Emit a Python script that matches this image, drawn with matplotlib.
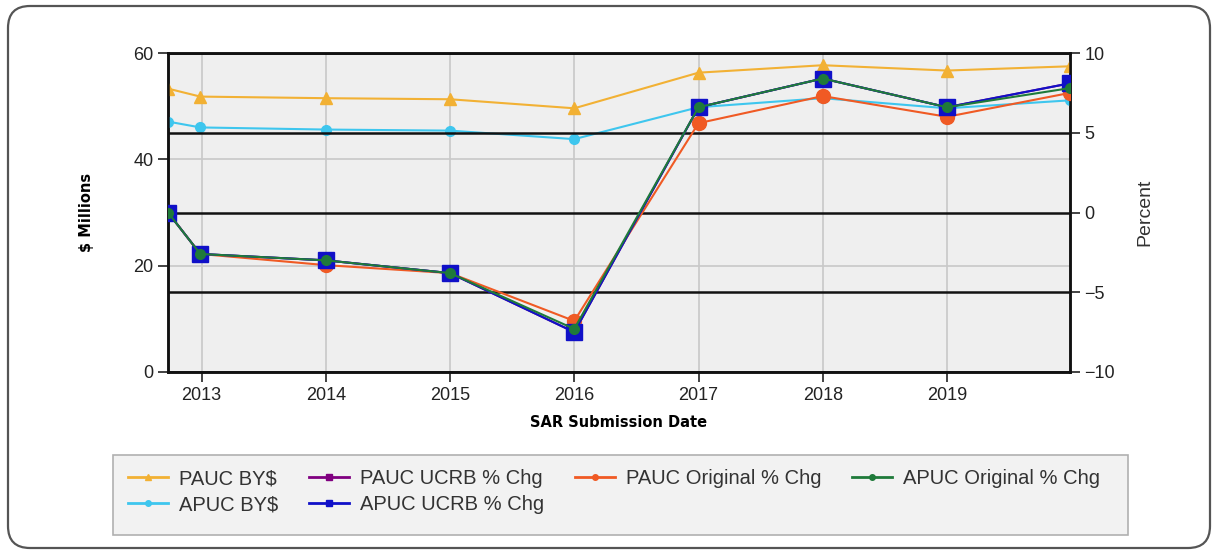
import matplotlib
matplotlib.use("Agg")
import matplotlib.pyplot as plt
from matplotlib.lines import Line2D
from matplotlib.patches import FancyBboxPatch, Rectangle

# SAR submission dates (decimal years)
dates = [2012.73, 2012.99, 2014.0, 2015.0, 2016.0, 2017.0, 2018.0, 2019.0, 2019.99]
year_ticks = [2013, 2014, 2015, 2016, 2017, 2018, 2019]

# $ Millions
pauc_bys = [53.3, 51.8, 51.5, 51.3, 49.6, 56.3, 57.7, 56.7, 57.5]
apuc_bys = [47.1, 46.0, 45.6, 45.4, 43.8, 49.8, 51.5, 49.6, 51.1]

# Percent change
pauc_ucrb = [0.0, -2.6, -3.0, -3.8, -7.5, 6.6, 8.4, 6.6, 8.1]
pauc_orig = [0.0, -2.6, -3.3, -3.8, -6.8, 5.6, 7.3, 6.0, 7.5]
apuc_orig = [0.0, -2.6, -3.0, -3.8, -7.3, 6.6, 8.4, 6.6, 7.8]
apuc_ucrb = [0.0, -2.6, -3.0, -3.8, -7.5, 6.6, 8.4, 6.6, 8.1]

c_pauc_bys = "#f2b134"
c_apuc_bys = "#3ec6ee"
c_pauc_ucrb = "#800080"
c_pauc_orig = "#f05a24"
c_apuc_orig = "#1f7a3a"
c_apuc_ucrb = "#1010c8"

plt.rcParams["font.family"] = ["Liberation Sans", "DejaVu Sans"]

fig = plt.figure(figsize=(12.19, 5.54), dpi=100)
ax = fig.add_axes([168 / 1219, 1 - 372 / 554, 902 / 1219, 319 / 554])
ax.set_facecolor("#efefef")

ax.plot(dates, pauc_bys, color=c_pauc_bys, lw=1.5, marker="^", ms=8, zorder=3)
ax.plot(dates, apuc_bys, color=c_apuc_bys, lw=1.5, marker="o", ms=7, zorder=3)

ax.set_xlim(dates[0], dates[-1])
ax.set_ylim(0, 60)
ax.set_yticks([0, 20, 40, 60])
ax.set_xticks(year_ticks)
ax.grid(True, color="#c8c8c8", lw=1.2, zorder=0)
ax.set_axisbelow(True)
ax.tick_params(axis="both", labelsize=13, color="#222222", length=7, width=1.2,
               labelcolor="#222222")
for s in ax.spines.values():
    s.set_color("#111111")
    s.set_linewidth(1.8)
ax.set_ylabel("$ Millions", fontsize=10.5, fontweight="bold", family="DejaVu Sans",
              labelpad=28)
ax.set_xlabel("SAR Submission Date", fontsize=10.5, fontweight="bold",
              family="DejaVu Sans", labelpad=8)

ax2 = ax.twinx()
ax2.set_ylim(-10, 10)
ax2.set_yticks([-10, -5, 0, 5, 10])
ax2.grid(True, axis="y", color="#111111", lw=1.8, zorder=1)
ax2.plot(dates, pauc_ucrb, color=c_pauc_ucrb, lw=1.5, marker="s", ms=10, zorder=3)
ax2.plot(dates, pauc_orig, color=c_pauc_orig, lw=1.5, marker="o", ms=10, zorder=3)
ax2.plot(dates, apuc_ucrb, color=c_apuc_ucrb, lw=1.5, marker="s", ms=11, zorder=4)
ax2.plot(dates, apuc_orig, color=c_apuc_orig, lw=1.5, marker="o", ms=7, zorder=5)
ax2.tick_params(axis="y", labelsize=13, color="#222222", length=7, width=1.2,
                labelcolor="#222222")
for s in ax2.spines.values():
    s.set_color("#111111")
    s.set_linewidth(1.8)
ax2.set_ylabel("Percent", fontsize=14, color="#333333", labelpad=15)

# outer rounded frame
frame = FancyBboxPatch((0.08, 0.06), 12.02, 5.42,
                       boxstyle="round,pad=0,rounding_size=0.22",
                       transform=fig.dpi_scale_trans, fill=False,
                       ec="#555555", lw=1.6)
fig.add_artist(frame)

# legend box
fig.add_artist(Rectangle((113 / 1219, 19 / 554), 1015 / 1219, 80 / 554,
                         transform=fig.transFigure, fc="#f2f2f2", ec="#b0b0b0",
                         lw=1.2, zorder=0))

handles = [
    Line2D([], [], color=c_pauc_bys, lw=2, marker="^", ms=4),
    Line2D([], [], color=c_apuc_bys, lw=2, marker="o", ms=4),
    Line2D([], [], color=c_pauc_ucrb, lw=2, marker="s", ms=4),
    Line2D([], [], color=c_apuc_ucrb, lw=2, marker="s", ms=4),
    Line2D([], [], color=c_pauc_orig, lw=2, marker="o", ms=4),
    Line2D([], [], color=c_apuc_orig, lw=2, marker="o", ms=4),
]
labels = ["PAUC BY$", "APUC BY$", "PAUC UCRB % Chg", "APUC UCRB % Chg",
          "PAUC Original % Chg", "APUC Original % Chg"]
fig.legend(handles, labels, ncol=4, loc="upper left",
           bbox_to_anchor=(118 / 1219, 1 - 459 / 554), frameon=False,
           fontsize=14.5, borderpad=0, handlelength=2.0, handletextpad=0.55,
           columnspacing=1.5, labelspacing=0.35, labelcolor="#333333")

fig.savefig("out.png", dpi=100, facecolor="white")
